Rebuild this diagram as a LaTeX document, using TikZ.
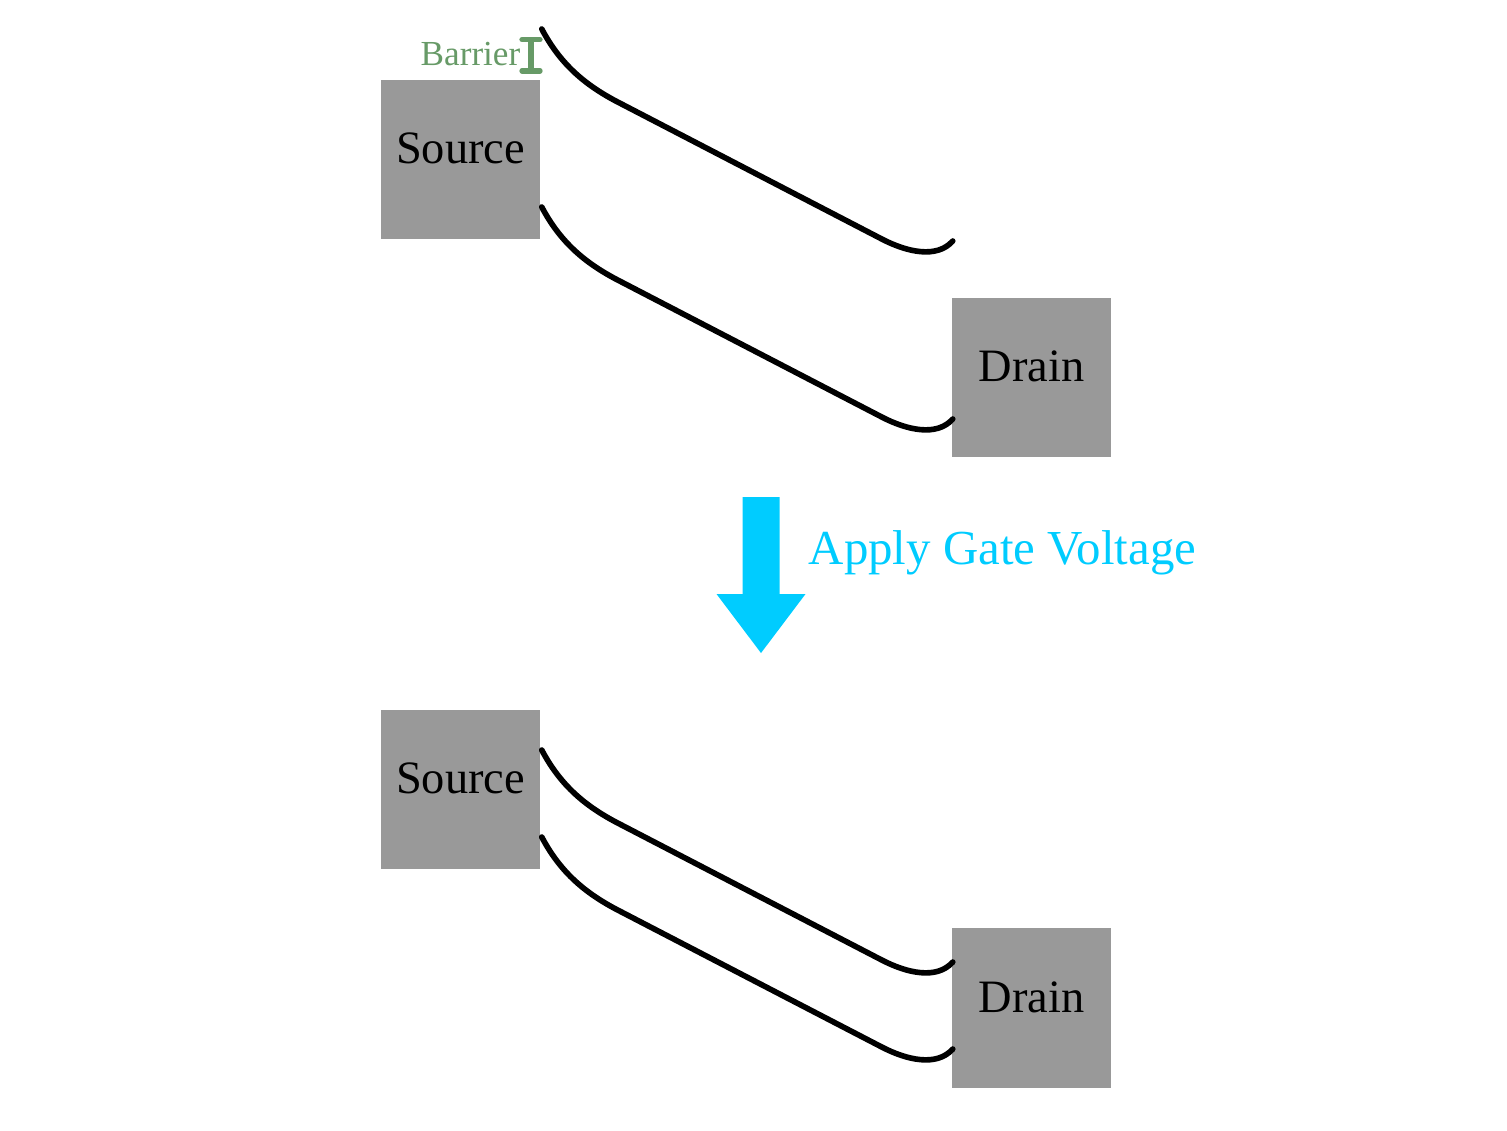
\documentclass[tikz,border=0pt]{standalone}
\usepackage{fontspec}
\setmainfont{Liberation Serif}
\usepackage{tikz}
\usetikzlibrary{arrows.meta,positioning,calc}
\definecolor{slab}{HTML}{999999}
\definecolor{ink}{HTML}{000000}
\definecolor{moss}{HTML}{679A67}
\definecolor{gate}{HTML}{00CCFF}
\tikzset{
  contact/.style={fill=slab,inner sep=0pt,minimum width=1.59cm,minimum height=1.59cm,text=ink,font=\fontsize{13.2}{15}\selectfont,text height=0.30cm,text depth=0.22cm},
  band/.style={draw=ink,line width=1.6pt,line cap=round},
  barrier/.style={draw=moss,line width=1.5pt,line cap=round,{Bar[width=1.8mm,line cap=round]}-{Bar[width=1.8mm,line cap=round]}},
  barlbl/.style={font=\fontsize{10}{12}\selectfont,text=moss,inner sep=0pt,anchor=east},
  gatearrow/.style={fill=gate},
  gatelbl/.style={font=\fontsize{13.9}{16}\selectfont,text=gate,inner sep=0pt,anchor=west},
}
% one band edge, from its start point at the source to the drain
\newcommand{\bandedge}[1]{%
  \begin{scope}[shift={(#1)}]
    \draw[band] (0,0) .. controls (19,36) and (44,56) .. (74,72) -- (340,210)
      .. controls (365,223) and (395,230) .. (411,212);
  \end{scope}
}

\begin{document}
\begin{tikzpicture}[x=0.01cm,y=-0.01cm]
    \useasboundingbox (0,0) rectangle (1507,1130);
    % before
    \node[contact] (srcA) at (460.5,159.5) {Source};
    \node[contact] (drnA) at (1031.5,377.5) {Drain};
    \coordinate (upA) at ($(srcA.east)+(1,-130.5)$);
    \coordinate (loA) at ($(srcA.east)+(1,47.5)$);
    \bandedge{upA}
    \bandedge{loA}
    \coordinate (barTop) at (531,37);
    \coordinate (barBot) at (531,73.5);
    \draw[barrier] (barTop) -- (barBot);
    \node[barlbl] (barName) at (521,54) {Barrier};
    % gate voltage
    \fill[gatearrow] (742.5,497) -- (779.5,497) -- (779.5,594) -- (805.5,594)
      -- (761,653) -- (716.5,594) -- (742.5,594) -- cycle;
    \node[gatelbl] (gateName) at (808,553) {Apply Gate Voltage};
    % after
    \node[contact] (srcB) at (460.5,789.5) {Source};
    \node[contact] (drnB) at (1031.5,1008) {Drain};
    \coordinate (upB) at ($(srcB.east)+(1,-39.5)$);
    \coordinate (loB) at ($(srcB.east)+(1,47.5)$);
    \bandedge{upB}
    \bandedge{loB}
  \end{tikzpicture}
\end{document}
